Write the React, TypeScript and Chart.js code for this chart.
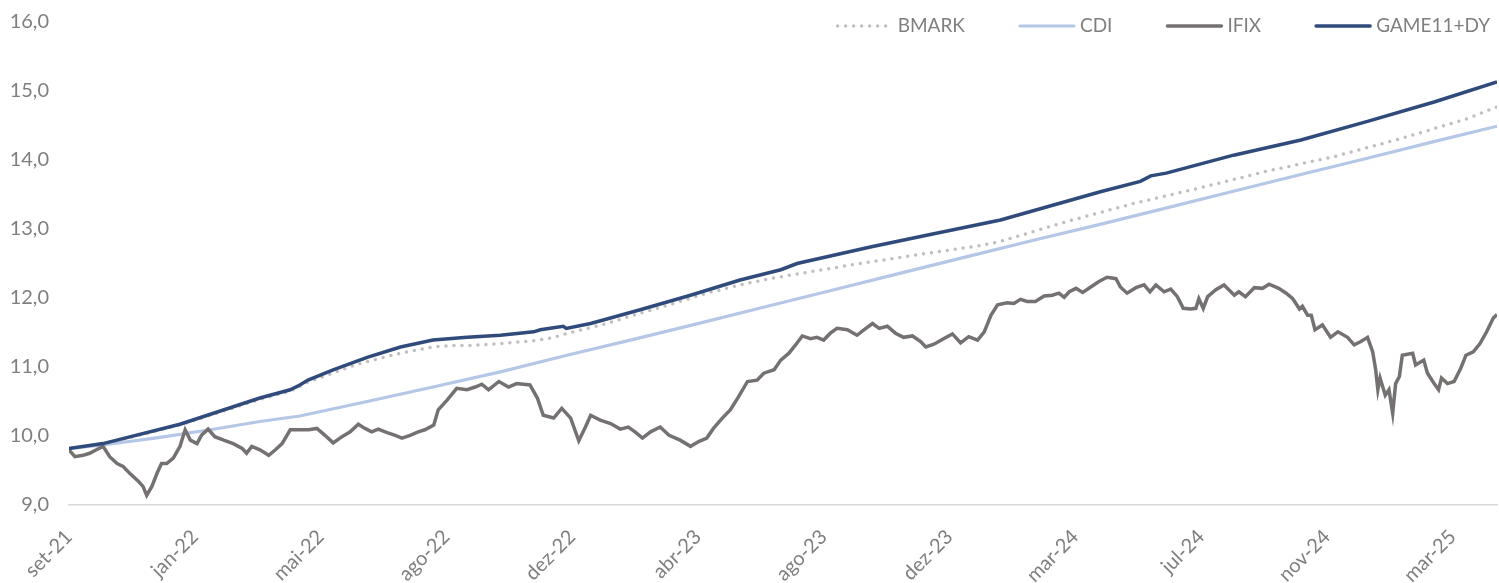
import React, { useEffect, useRef } from "react";
import { Chart, registerables } from "chart.js";

Chart.register(...registerables);

// X axis: weeks since set-21; one tick label every 17 weeks
const tickLabels = ["set-21", "jan-22", "mai-22", "ago-22", "dez-22", "abr-23", "ago-23", "dez-23", "mar-24", "jul-24", "nov-24", "mar-25"];
const weeksPerTick = 17;
const lastWeek = 193;

const ifixWeeks = [
  0, 0.8, 1.9, 2.8, 3.7, 4.6, 5.5, 6.5, 7.3, 8.2,
  9.4, 10.0, 10.5, 11.2, 11.9, 12.5, 13.2, 14.1, 15.0, 15.7,
  16.4, 17.3, 17.9, 18.8, 19.7, 20.9, 22.2, 23.4, 24.0, 24.7,
  25.8, 27.0, 27.9, 28.8, 29.9, 31.2, 32.4, 33.5, 34.6, 35.7,
  36.9, 38.0, 39.1, 40.0, 40.9, 41.8, 43.0, 44.1, 45.0, 46.1,
  47.2, 48.1, 49.3, 49.9, 51.1, 52.4, 53.8, 54.9, 55.8, 56.7,
  58.1, 59.4, 60.5, 62.3, 63.3, 64.1, 65.5, 66.6, 67.8, 68.9,
  69.8, 70.5, 71.8, 73.2, 74.5, 75.6, 76.5, 77.5, 78.6, 79.9,
  81.1, 82.6, 84.0, 85.1, 86.2, 87.1, 88.3, 89.4, 90.5, 91.7,
  93.0, 93.9, 95.3, 96.2, 97.3, 98.2, 99.1, 100.2, 101.1, 102.0,
  102.9, 103.8, 105.2, 106.5, 107.7, 108.6, 109.5, 110.6, 111.7, 112.8,
  114.0, 115.1, 115.8, 116.9, 118.2, 119.4, 120.5, 121.6, 122.8, 123.7,
  124.6, 125.5, 126.8, 127.7, 128.6, 129.5, 130.6, 131.8, 132.9, 133.8,
  134.5, 135.2, 136.1, 137.0, 138.1, 139.2, 140.3, 141.5, 142.1, 143.0,
  144.2, 145.3, 146.1, 146.9, 148.0, 148.9, 149.8, 150.6, 151.6, 152.3,
  152.7, 153.3, 153.9, 155.0, 156.1, 157.5, 158.1, 159.0, 160.2, 161.3,
  162.2, 163.5, 164.5, 165.4, 166.3, 166.7, 167.4, 167.9, 168.4, 169.4,
  170.5, 171.5, 172.8, 173.7, 174.6, 175.5, 176.2, 176.6, 176.9, 177.2,
  177.9, 178.4, 178.9, 179.3, 179.8, 180.2, 181.6, 182.0, 183.1, 183.6,
  184.5, 185.1, 185.5, 186.3, 187.2, 188.1, 188.8, 189.8, 190.7, 191.6,
  192.5, 193.0,
];
const ifixValues = [
  9.80, 9.70, 9.72, 9.75, 9.80, 9.85, 9.70, 9.60, 9.56, 9.46,
  9.34, 9.27, 9.14, 9.27, 9.46, 9.60, 9.60, 9.68, 9.85, 10.09,
  9.94, 9.89, 10.01, 10.10, 9.99, 9.94, 9.89, 9.82, 9.75, 9.85,
  9.80, 9.72, 9.80, 9.89, 10.09, 10.09, 10.09, 10.11, 10.01, 9.90,
  9.99, 10.06, 10.17, 10.11, 10.06, 10.10, 10.05, 10.01, 9.97, 10.01,
  10.06, 10.09, 10.16, 10.38, 10.52, 10.69, 10.67, 10.71, 10.75, 10.67,
  10.79, 10.71, 10.76, 10.74, 10.55, 10.30, 10.26, 10.40, 10.26, 9.93,
  10.13, 10.30, 10.23, 10.18, 10.10, 10.13, 10.06, 9.97, 10.06, 10.13,
  10.01, 9.94, 9.85, 9.92, 9.97, 10.11, 10.26, 10.38, 10.57, 10.79,
  10.81, 10.91, 10.96, 11.10, 11.20, 11.32, 11.45, 11.41, 11.43, 11.39,
  11.49, 11.56, 11.54, 11.46, 11.56, 11.63, 11.56, 11.59, 11.49, 11.43,
  11.45, 11.37, 11.29, 11.33, 11.41, 11.48, 11.35, 11.44, 11.39, 11.51,
  11.75, 11.90, 11.93, 11.92, 11.98, 11.95, 11.95, 12.03, 12.04, 12.07,
  12.01, 12.09, 12.14, 12.08, 12.16, 12.24, 12.30, 12.28, 12.16, 12.07,
  12.15, 12.19, 12.09, 12.19, 12.09, 12.13, 12.02, 11.85, 11.84, 11.85,
  11.99, 11.85, 12.02, 12.12, 12.19, 12.04, 12.09, 12.02, 12.15, 12.14,
  12.20, 12.14, 12.07, 11.99, 11.84, 11.88, 11.75, 11.75, 11.54, 11.61,
  11.43, 11.51, 11.43, 11.32, 11.37, 11.43, 11.22, 10.96, 10.67, 10.84,
  10.59, 10.67, 10.33, 10.76, 10.86, 11.17, 11.20, 11.03, 11.10, 10.91,
  10.76, 10.67, 10.84, 10.76, 10.79, 10.98, 11.17, 11.22, 11.34, 11.51,
  11.71, 11.76,
];

const gameWeeks = [0, 4.6, 15.0, 25.8, 29.9, 31.2, 32.3, 35.7, 40.3, 44.8, 49.2, 53.8, 58.3, 62.8, 63.7, 66.8, 67.2, 70.5, 77.2, 84.0, 90.7, 96.2, 98.4, 108.3, 116.4, 125.9, 139.4, 144.8, 146.2, 148.3, 157.4, 166.5, 175.5, 184.5, 193.0];
const gameValues = [9.82, 9.89, 10.17, 10.55, 10.67, 10.74, 10.81, 10.96, 11.14, 11.29, 11.39, 11.43, 11.46, 11.51, 11.54, 11.59, 11.56, 11.63, 11.83, 12.04, 12.26, 12.41, 12.50, 12.74, 12.92, 13.13, 13.54, 13.69, 13.77, 13.81, 14.07, 14.29, 14.56, 14.84, 15.13];

const bmarkWeeks = [0, 4.6, 15.0, 25.8, 29.9, 32.3, 37.9, 40.3, 44.8, 49.2, 51.5, 53.8, 58.3, 62.8, 64.7, 68.2, 72.7, 77.2, 81.7, 86.2, 90.7, 95.2, 105.2, 114.2, 123.2, 125.9, 134.9, 143.9, 153.0, 162.0, 171.0, 180.0, 189.0, 193.0];
const bmarkValues = [9.82, 9.88, 10.16, 10.53, 10.65, 10.78, 11.00, 11.08, 11.20, 11.29, 11.31, 11.31, 11.34, 11.38, 11.41, 11.51, 11.63, 11.78, 11.92, 12.07, 12.19, 12.29, 12.47, 12.62, 12.76, 12.82, 13.11, 13.37, 13.60, 13.84, 14.05, 14.31, 14.60, 14.77];

const cdiWeeks = [0, 4.6, 12.3, 19.1, 25.8, 31.2, 40.3, 49.2, 58.3, 67.3, 76.3, 85.4, 94.4, 103.4, 112.4, 121.4, 130.5, 139.5, 148.5, 157.5, 166.5, 175.6, 184.6, 193.0];
const cdiValues = [9.82, 9.87, 9.98, 10.09, 10.21, 10.29, 10.50, 10.71, 10.93, 11.17, 11.40, 11.64, 11.88, 12.12, 12.36, 12.60, 12.84, 13.07, 13.31, 13.55, 13.79, 14.03, 14.27, 14.49];

const yTicks = [9, 10, 11, 12, 13, 14, 15, 16];

const TEXT = "#7f7f7f";
const FONT = "Lato, 'Open Sans', sans-serif";

const toPoints = (xs: number[], ys: number[]) => xs.map((x, i) => ({ x, y: ys[i] }));

// legend order (left -> right) by dataset label
const legendOrder = ["BMARK", "CDI", "IFIX", "GAME11+DY"];

const legendPlugin = {
  id: "customLegend",
  afterDraw(chart: any) {
    const ctx = chart.ctx as CanvasRenderingContext2D;
    ctx.save();
    ctx.font = `19px ${FONT}`;
    ctx.textBaseline = "middle";
    ctx.textAlign = "left";
    let xEnd = 1490;
    const yMid = 26;
    for (let i = legendOrder.length - 1; i >= 0; i--) {
      const ds = chart.data.datasets.find((d: any) => d.label === legendOrder[i]);
      const w = ctx.measureText(ds.label).width;
      const textX = xEnd - w;
      ctx.fillStyle = TEXT;
      ctx.fillText(ds.label, textX, yMid);
      const lineEnd = textX - 6;
      const lineStart = lineEnd - 54;
      ctx.strokeStyle = ds.borderColor;
      ctx.lineWidth = ds.borderWidth;
      ctx.lineCap = "round";
      ctx.setLineDash(ds.borderDash || []);
      ctx.beginPath();
      ctx.moveTo(lineStart, yMid);
      ctx.lineTo(lineEnd, yMid);
      ctx.stroke();
      ctx.setLineDash([]);
      xEnd = lineStart - 55;
    }
    ctx.restore();
  },
};

export default function App() {
  const ref = useRef<HTMLCanvasElement>(null);

  useEffect(() => {
    if (!ref.current) return;
    const chart = new Chart(ref.current, {
      type: "line",
      data: {
        datasets: [
          {
            label: "GAME11+DY",
            data: toPoints(gameWeeks, gameValues),
            borderColor: "#2f4a7b",
            borderWidth: 3.5,
            pointRadius: 0,
            tension: 0,
          },
          {
            label: "IFIX",
            data: toPoints(ifixWeeks, ifixValues),
            borderColor: "#767171",
            borderWidth: 3.5,
            pointRadius: 0,
            tension: 0,
          },
          {
            label: "BMARK",
            data: toPoints(bmarkWeeks, bmarkValues),
            borderColor: "#bfbfbf",
            borderWidth: 3.5,
            borderDash: [0, 8],
            borderCapStyle: "round",
            pointRadius: 0,
            tension: 0,
          },
          {
            label: "CDI",
            data: toPoints(cdiWeeks, cdiValues),
            borderColor: "#b4c7e7",
            borderWidth: 3.2,
            pointRadius: 0,
            tension: 0,
          },
        ] as any,
      },
      options: {
        responsive: false,
        animation: false,
        layout: { padding: { left: 0, right: 2, top: 22, bottom: 0 } },
        plugins: { legend: { display: false }, tooltip: { enabled: false } },
        scales: {
          x: {
            type: "linear",
            min: 0,
            max: lastWeek,
            afterBuildTicks: (s: any) => {
              s.ticks = tickLabels.map((_, i) => ({ value: i * weeksPerTick }));
            },
            afterFit: (s: any) => {
              s.height = 78;
            },
            ticks: {
              autoSkip: false,
              maxRotation: 45,
              minRotation: 45,
              padding: 20,
              color: TEXT,
              font: { family: FONT, size: 20 },
              callback: (_v: any, i: number) => tickLabels[i],
            },
            grid: { display: false, drawTicks: false },
            border: { display: true, color: "#d9d9d9", width: 1.5 },
          },
          y: {
            min: yTicks[0],
            max: yTicks[yTicks.length - 1],
            afterBuildTicks: (s: any) => {
              s.ticks = yTicks.map((v) => ({ value: v }));
            },
            afterFit: (s: any) => {
              s.width = 69;
              s.paddingTop = 0;
              s.paddingBottom = 0;
            },
            ticks: {
              padding: 20,
              color: TEXT,
              font: { family: FONT, size: 20 },
              callback: (v: any) => Number(v).toFixed(1).replace(".", ","),
            },
            grid: { display: false, drawTicks: false },
            border: { display: false },
          },
        },
      } as any,
      plugins: [legendPlugin],
    });
    return () => chart.destroy();
  }, []);

  return (
    <div style={{ position: "absolute", left: 0, top: 0, width: 1499, height: 583, background: "#fff" }}>
      <canvas ref={ref} width={1499} height={583} style={{ display: "block" }} />
    </div>
  );
}
